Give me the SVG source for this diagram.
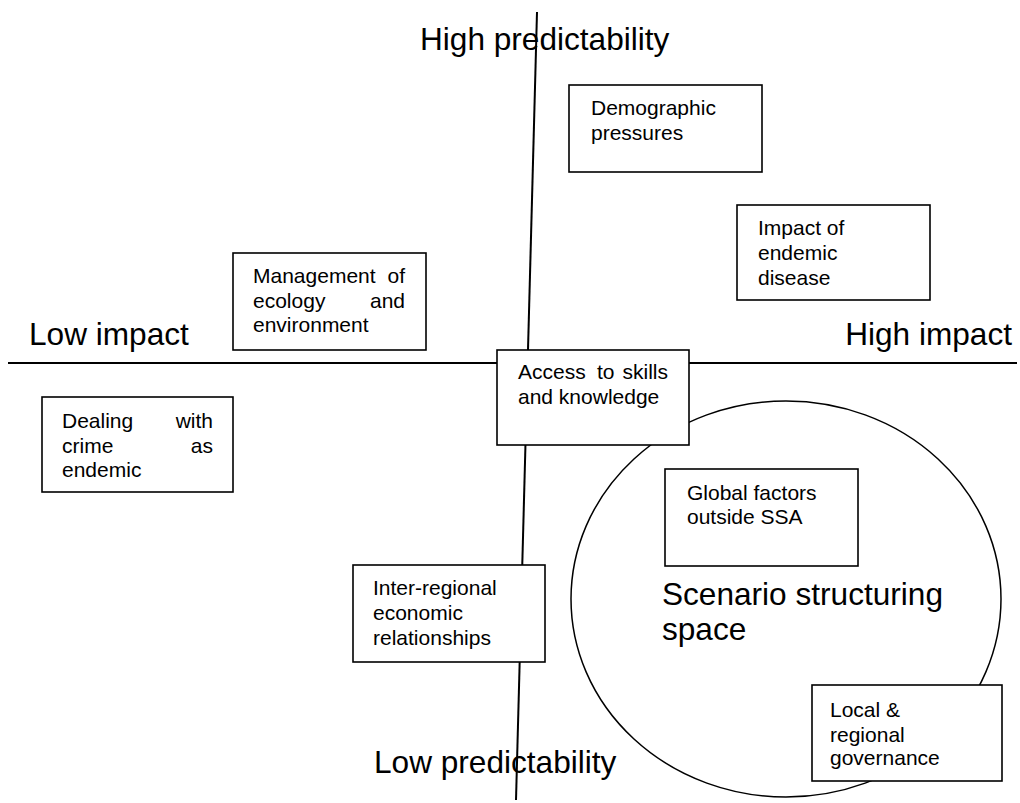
<svg xmlns="http://www.w3.org/2000/svg" width="1020" height="803" viewBox="0 0 1020 803">
  <style>
    .axis { stroke: #000; stroke-width: 2; fill: none; }
    .ring { stroke: #000; stroke-width: 1.5; fill: none; }
    .box { fill: #fff; stroke: #000; stroke-width: 1.6; }
    .lbl { font-family: "Liberation Sans", Arial, sans-serif; font-size: 21px; fill: #000; }
    .big { font-family: "Liberation Sans", Arial, sans-serif; font-size: 31.6px; fill: #000; }
    .end { text-anchor: end; }
  </style>
  <rect width="1020" height="803" fill="#fff"/>

  <!-- axes and scenario ellipse -->
  <g id="connectors">
    <line class="axis" x1="8" y1="363" x2="1017" y2="363"/>
    <line class="axis" x1="537" y1="12" x2="516" y2="800"/>
    <ellipse class="ring" cx="786" cy="599" rx="215" ry="198"/>
  </g>

  <!-- axis labels -->
  <g id="axis-labels">
    <text class="big" x="420" y="50">High predictability</text>
    <text class="big" x="374" y="773">Low predictability</text>
    <text class="big" x="29" y="345">Low impact</text>
    <text class="big end" x="1012" y="345">High impact</text>
    <text class="big" x="662" y="605">Scenario structuring</text>
    <text class="big" x="662" y="640">space</text>
  </g>

  <g id="demographic">
    <rect class="box" x="569" y="85" width="193" height="87"/>
    <text class="lbl" x="591" y="115">Demographic</text>
    <text class="lbl" x="591" y="140">pressures</text>
  </g>

  <g id="endemic-disease">
    <rect class="box" x="737" y="205" width="193" height="95"/>
    <text class="lbl" x="758" y="235">Impact of</text>
    <text class="lbl" x="758" y="260">endemic</text>
    <text class="lbl" x="758" y="285">disease</text>
  </g>

  <g id="ecology">
    <rect class="box" x="233" y="253" width="193" height="97"/>
    <text class="lbl" x="253" y="283">Management</text>
    <text class="lbl end" x="405" y="283">of</text>
    <text class="lbl" x="253" y="308">ecology</text>
    <text class="lbl end" x="405" y="308">and</text>
    <text class="lbl" x="253" y="332">environment</text>
  </g>

  <g id="crime">
    <rect class="box" x="42" y="397" width="191" height="95"/>
    <text class="lbl" x="62" y="428">Dealing</text>
    <text class="lbl end" x="213" y="428">with</text>
    <text class="lbl" x="62" y="453">crime</text>
    <text class="lbl end" x="213" y="453">as</text>
    <text class="lbl" x="62" y="477">endemic</text>
  </g>

  <g id="skills">
    <rect class="box" x="497" y="350" width="192" height="95"/>
    <text class="lbl" x="518" y="379">Access</text>
    <text class="lbl" x="597" y="379">to</text>
    <text class="lbl end" x="668" y="379">skills</text>
    <text class="lbl" x="518" y="404">and knowledge</text>
  </g>

  <g id="global">
    <rect class="box" x="665" y="469" width="193" height="97"/>
    <text class="lbl" x="687" y="500">Global factors</text>
    <text class="lbl" x="687" y="524">outside SSA</text>
  </g>

  <g id="inter-regional">
    <rect class="box" x="353" y="565" width="192" height="97"/>
    <text class="lbl" x="373" y="595">Inter-regional</text>
    <text class="lbl" x="373" y="620">economic</text>
    <text class="lbl" x="373" y="645">relationships</text>
  </g>

  <g id="governance">
    <rect class="box" x="812" y="685" width="190" height="96"/>
    <text class="lbl" x="830" y="717">Local &amp;</text>
    <text class="lbl" x="830" y="742">regional</text>
    <text class="lbl" x="830" y="765">governance</text>
  </g>
</svg>
